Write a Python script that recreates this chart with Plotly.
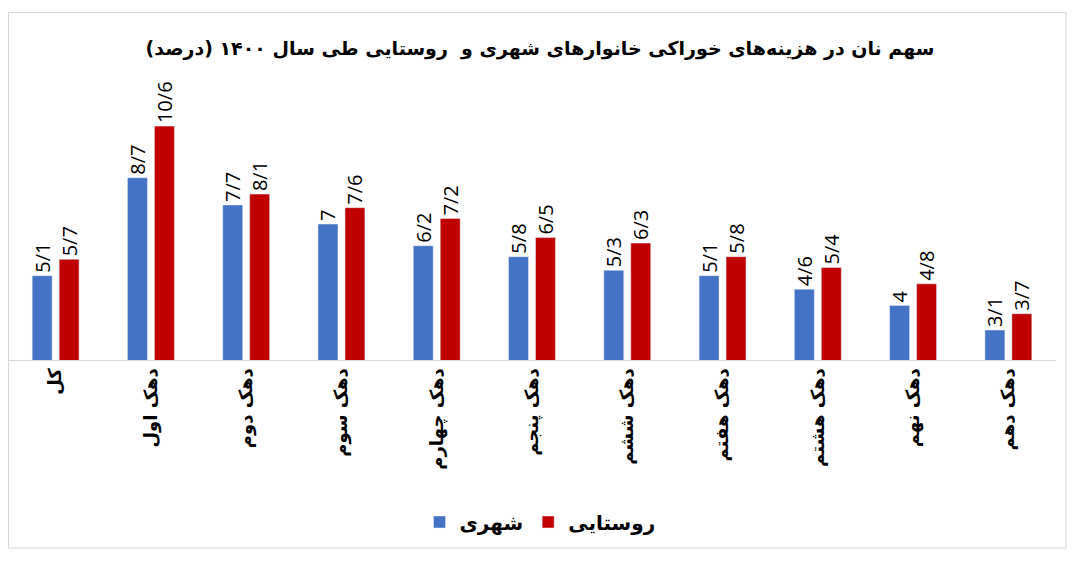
import plotly.graph_objects as go

categories = ["کل", "دهک اول", "دهک دوم", "دهک سوم", "دهک چهارم", "دهک پنجم",
              "دهک ششم", "دهک هفتم", "دهک هشتم", "دهک نهم", "دهک دهم"]
urban = [5.1, 8.7, 7.7, 7.0, 6.2, 5.8, 5.3, 5.1, 4.6, 4.0, 3.1]
rural = [5.7, 10.6, 8.1, 7.6, 7.2, 6.5, 6.3, 5.8, 5.4, 4.8, 3.7]
urban_name = "شهری"
rural_name = "روستایی"
title_text = "سهم نان در هزینه‌های خوراکی خانوارهای شهری و  روستایی طی سال ۱۴۰۰ (درصد)"


def fmt(v):
    s = ("%.1f" % v)
    if s.endswith(".0"):
        s = s[:-2]
    return s.replace(".", "/")


# page body has an 8px margin; figure coordinates are offset accordingly
W, H = 1070, 555
OFF = 8


def px_x(x):
    return (x - OFF) / W


def px_y(y):
    return 1 - (y - OFF) / H


fig = go.Figure()
for name, vals, color in [(urban_name, urban, "#4472C4"), (rural_name, rural, "#C00000")]:
    fig.add_trace(go.Bar(
        x=categories, y=vals, name="<b>" + name + "</b>", marker_color=color,
        text=[fmt(v) for v in vals], textposition="outside", textangle=-90,
        textfont=dict(family="Open Sans", size=20, color="#000000"),
        constraintext="none", cliponaxis=False,
    ))

fig.update_layout(
    width=W, height=H,
    margin=dict(l=0, r=0, t=0, b=0, autoexpand=False),
    paper_bgcolor="white", plot_bgcolor="white",
    barmode="group", bargap=0.434, bargroupgap=0.26,
    showlegend=True,
    legend=dict(orientation="h", x=px_x(540), xanchor="center", y=px_y(522), yanchor="middle",
                font=dict(family="DejaVu Sans", size=20, color="#000000"),
                itemwidth=30, bgcolor="rgba(0,0,0,0)"),
    title=dict(text="<b>" + title_text + "</b>", x=px_x(540), xanchor="center",
               y=px_y(48), yanchor="middle",
               font=dict(family="DejaVu Sans", size=19, color="#000000")),
    xaxis=dict(domain=[px_x(8), px_x(1056)], showline=True, linecolor="#D9D9D9", linewidth=1,
               ticks="", tickangle=-90, showgrid=False, automargin=False,
               tickfont=dict(family="DejaVu Sans", size=18, color="#000000")),
    yaxis=dict(domain=[px_y(360), px_y(88)], range=[2, 12], visible=False,
               showgrid=False, automargin=False),
    shapes=[dict(type="rect", xref="paper", yref="paper",
                 x0=px_x(8.5), x1=px_x(1066), y0=px_y(548), y1=px_y(12.5),
                 line=dict(color="#D9D9D9", width=1), fillcolor="rgba(0,0,0,0)")],
)
fig.update_xaxes(tickvals=categories, ticktext=["<b>" + c + "</b>" for c in categories])
fig.write_html("out.html")
